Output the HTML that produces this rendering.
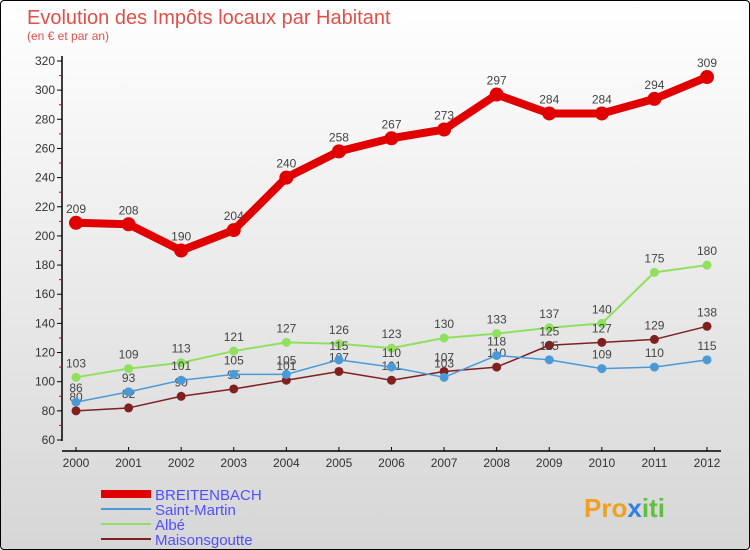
<!DOCTYPE html>
<html><head><meta charset="utf-8"><style>
body{margin:0}
#c{position:relative;width:748px;height:548px;border:1px solid #000;border-radius:4px;background:linear-gradient(#ffffff,#d6d6d6);overflow:hidden;font-family:"Liberation Sans",sans-serif}
</style></head><body>
<div id="c">
<svg width="748" height="548" id="svg">
<text x="26" y="23" font-size="20" fill="#e0504a">Evolution des Impôts locaux par Habitant</text>
<text x="26" y="39" font-size="12" fill="#e0504a">(en € et par an)</text>
<g id="axes"></g><g id="series"></g>
<g>
<line x1="100" y1="493" x2="150" y2="493" stroke="#e00000" stroke-width="8"/>
<text x="154" y="499" font-size="15" fill="#5050ff">BREITENBACH</text>
<line x1="100" y1="508" x2="150" y2="508" stroke="#4a9ad8" stroke-width="2"/>
<text x="154" y="514" font-size="15" fill="#5050ff">Saint-Martin</text>
<line x1="100" y1="523" x2="150" y2="523" stroke="#90e060" stroke-width="2"/>
<text x="154" y="529" font-size="15" fill="#5050ff">Albé</text>
<line x1="100" y1="538" x2="150" y2="538" stroke="#802020" stroke-width="2"/>
<text x="154" y="544" font-size="15" fill="#5050ff">Maisonsgoutte</text>
</g>
<text x="583" y="516" font-size="26" font-weight="bold" fill="#f0a020">Pro<tspan fill="#3080e0">x</tspan><tspan fill="#60c040">iti</tspan></text>
</svg>
</div>
<script>
const years=[2000,2001,2002,2003,2004,2005,2006,2007,2008,2009,2010,2011,2012];
const breitenbach=[209,208,190,204,240,258,267,273,297,284,284,294,309];
const saintMartin=[86,93,101,105,105,115,110,103,118,115,109,110,115];
const albe=[103,109,113,121,127,126,123,130,133,137,140,175,180];
const maisonsgoutte=[80,82,90,95,101,107,101,107,110,125,127,129,138];
const yTicks=[60,80,100,120,140,160,180,200,220,240,260,280,300,320];
const NS="http://www.w3.org/2000/svg";
function X(i){return 75+i*(706-75)/(years.length-1);}
function Y(v){return 439-(v-60)*379/260;}
function mk(tag,attrs,parent){const e=document.createElementNS(NS,tag);for(const k in attrs)e.setAttribute(k,attrs[k]);parent.appendChild(e);return e;}
const ax=document.getElementById('axes');
let l=mk('line',{x1:61,y1:55,x2:61,y2:440,stroke:'#000','stroke-width':1.5},ax);


l=mk('line',{x1:61,y1:450,x2:720,y2:450,stroke:'#000','stroke-width':1.5},ax);


yTicks.forEach((v,k)=>{
 mk('line',{x1:56,y1:Y(v),x2:61,y2:Y(v),stroke:'#000'},ax);
 if(k<yTicks.length-1)mk('line',{x1:58,y1:Y(v+10),x2:61,y2:Y(v+10),stroke:'#e00000'},ax);
 const t=mk('text',{x:54,y:Y(v)+4,'font-size':12,fill:'#333','text-anchor':'end'},ax);
 t.textContent=v;
 
 
});
years.forEach((yr,i)=>{
 mk('line',{x1:X(i),y1:446,x2:X(i),y2:450,stroke:'#000'},ax);
 const t=mk('text',{x:X(i),y:466,'font-size':12,fill:'#333','text-anchor':'middle'},ax);
 t.textContent=yr;
 
 
});
const sg=document.getElementById('series');
function draw(data,color,w,r,name){
 const g=mk('g',{},sg);
 
 
 const p=mk('polyline',{points:data.map((v,i)=>X(i)+','+Y(v)).join(' '),fill:'none',stroke:color,'stroke-width':w,'stroke-linejoin':'round'},g);
 
 
 data.forEach((v,i)=>{
  const c=mk('circle',{cx:X(i),cy:Y(v),r:r,fill:color},g);
  
  
  const t=mk('text',{x:X(i),y:Y(v)-10,'font-size':12,fill:'#444','text-anchor':'middle'},g);
  t.textContent=v;
  
  
 });
}
draw(albe,'#90e060',2,4.5,'albe');
draw(maisonsgoutte,'#802020',1.5,4.5,'maisonsgoutte');
draw(saintMartin,'#4a9ad8',1.5,4.5,'saint-martin');
draw(breitenbach,'#e00000',8,7,'breitenbach');
</script>
</body></html>
